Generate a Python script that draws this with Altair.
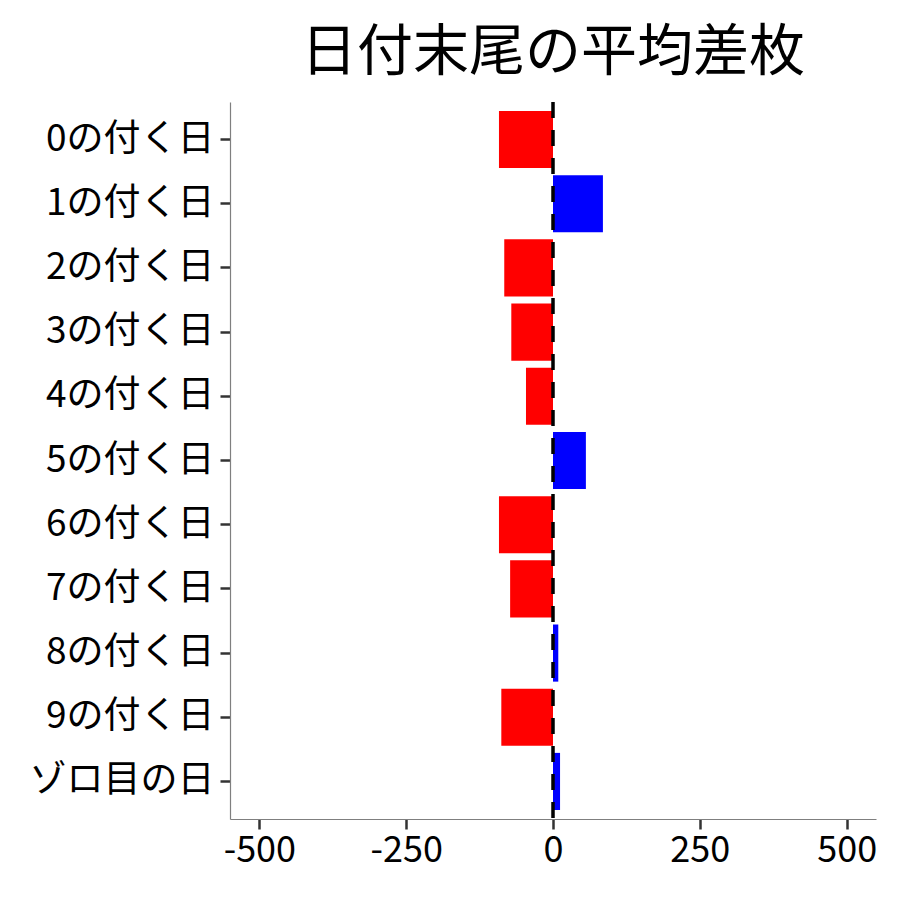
import altair as alt
import pandas as pd

categories = ["0の付く日", "1の付く日", "2の付く日", "3の付く日", "4の付く日",
              "5の付く日", "6の付く日", "7の付く日", "8の付く日", "9の付く日", "ゾロ目の日"]
values = [-92, 85, -83, -71, -46, 56, -92, -73, 9, -88, 12]
signs = ["neg" if v < 0 else "pos" for v in values]
title_text = "日付末尾の平均差枚"
x_ticks = [-500, -250, 0, 250, 500]

df = pd.DataFrame({"cat": categories, "val": values, "sign": signs})
zero = pd.DataFrame({"x": [0]})

FONT = "Noto Sans CJK JP"

bars = alt.Chart(df).mark_bar().encode(
    y=alt.Y("cat:N", sort=categories, title=None,
            scale=alt.Scale(paddingInner=0.11, paddingOuter=0.14),
            axis=alt.Axis(labelFontSize=37, labelFont=FONT, labelColor="black",
                          tickColor="#333333", tickSize=10, tickWidth=2.5,
                          domainColor="#7f7f7f", domainWidth=1.2, labelPadding=6,
                          labelLimit=0, grid=False)),
    x=alt.X("val:Q", title=None,
            scale=alt.Scale(domain=[-550, 550], nice=False, zero=False),
            axis=alt.Axis(values=x_ticks, labelFontSize=36, labelFont=FONT,
                          labelColor="black", tickColor="#333333", tickSize=10,
                          tickWidth=2.5, domainColor="#7f7f7f", domainWidth=1.2,
                          labelPadding=4, grid=False,
                          labelExpr="'' + datum.value")),
    color=alt.Color("sign:N", scale=alt.Scale(domain=["neg", "pos"],
                                             range=["#FF0000", "#0000FF"]),
                    legend=None),
)

rule = alt.Chart(zero).mark_rule(color="black", strokeWidth=3.5,
                                 strokeDash=[16, 12]).encode(x="x:Q")

chart = alt.layer(bars, rule).properties(
    width=646, height=717,
    title=alt.TitleParams(title_text, fontSize=56, font=FONT, fontWeight="normal",
                          color="black", anchor="middle", offset=18, limit=0,
                          frame="group"),
    autosize=alt.AutoSizeParams(type="none"),
    padding={"left": 222, "top": 94, "right": 10, "bottom": 70},
).configure_view(stroke=None).configure_axis(labelFontWeight="normal")

chart.save("out.html", embed_options={"renderer": "svg", "actions": False})
